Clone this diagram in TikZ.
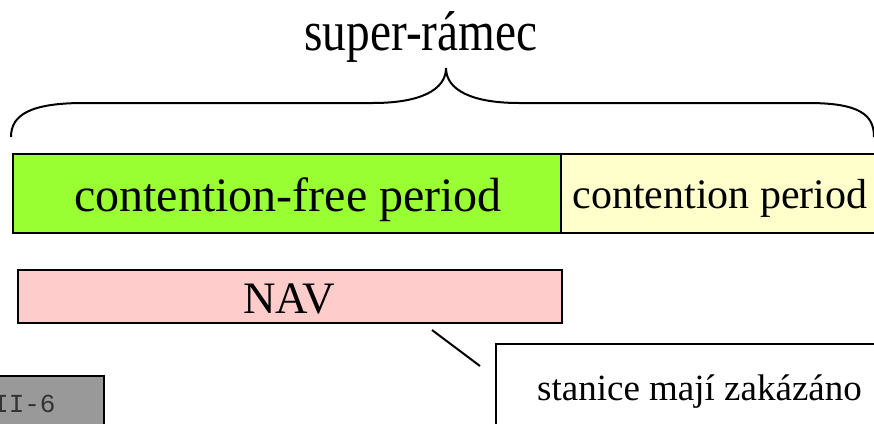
\documentclass[tikz,border=0pt]{standalone}
\usepackage{fontspec}
\setmainfont{Liberation Serif}
\setmonofont{Liberation Mono}
\begin{document}
\begin{tikzpicture}[x=1pt,y=-1pt,
  bar/.style={draw=black, line width=1.5pt, inner sep=0pt, anchor=north west},
  txt/.style={inner sep=0pt, anchor=base},
  bracepath/.style={draw=black, line width=2pt}]
\useasboundingbox (0,0) rectangle (874,423);
\clip (0,0) rectangle (874,423);
% title
\node[txt, font=\fontsize{56}{60}\selectfont] (title) at (421,50) {\scalebox{0.845}[1]{super-rámec}};
% brace
\draw[bracepath] (11,137) .. controls (11,115) and (30,103) .. (84,103) -- (373,103)
  .. controls (420,103) and (446,90) .. (446,68)
  .. controls (446,90) and (472,103) .. (519,103) -- (808,103)
  .. controls (860,103) and (874,115) .. (874,137);
% bars
\node[bar, fill={rgb,255:red,153;green,255;blue,51}, minimum width=548pt, minimum height=79pt] (cfp) at (12,153) {};
\node[bar, fill={rgb,255:red,255;green,255;blue,204}, minimum width=330pt, minimum height=79pt] (cp) at (560,153) {};
\node[bar, fill={rgb,255:red,255;green,204;blue,204}, minimum width=544pt, minimum height=53pt] (nav) at (17,269) {};
\node[txt, font=\fontsize{48}{52}\selectfont] (cfpt) at (288,211) {contention-free period};
\node[txt, font=\fontsize{42}{46}\selectfont] (cpt) at (720,208) {contention period};
\node[txt, font=\fontsize{45}{48}\selectfont] (navt) at (289,313) {NAV};
% callout
\node[bar, fill=white, line width=2pt, minimum width=400pt, minimum height=100pt] (call) at (495,343) {};
\node[txt, anchor=base west, font=\fontsize{37}{40}\selectfont] (calltext) at (537,400) {stanice mají zakázáno};
\coordinate (c1) at (432,330);
\coordinate (c2) at (480,366);
\draw[line width=2pt] (c1) -- (c2);
% gray box
\node[bar, fill={rgb,255:red,153;green,153;blue,153}, line width=2pt, minimum width=110pt, minimum height=60pt] (gb) at (-7,375) {};
\node[txt, anchor=base west, text=black!80, font=\ttfamily\fontsize{26}{28}\selectfont] (gbt) at (-7,412) {II-6};
\end{tikzpicture}
\end{document}
